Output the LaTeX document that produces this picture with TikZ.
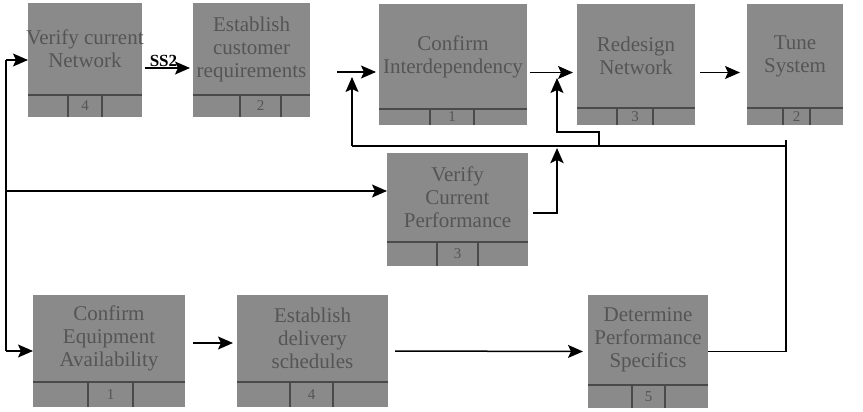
\documentclass[tikz,border=0pt]{standalone}
\usepackage{fontspec}
\setmainfont{Liberation Serif}
\usetikzlibrary{arrows.meta}

\definecolor{boxgray}{HTML}{8A8A8A}
\definecolor{inkgray}{HTML}{555555}
\definecolor{rulegray}{HTML}{4A4A4A}

\tikzset{
  procfill/.style={rectangle, fill=boxgray, draw=none, inner sep=0pt, outer sep=0pt},
  proctext/.style={align=center, inner sep=0pt, text=inkgray,
                   font=\fontsize{21}{23}\selectfont},
  procnum/.style={inner sep=0pt, text=inkgray, font=\fontsize{15}{15}\selectfont},
  cellline/.style={draw=rulegray, line width=1.1pt},
  conn/.style={draw=black, line width=1.5pt},
  arr/.style={conn, -{Stealth[length=15pt,width=13pt,inset=3pt]}},
  heavyarr/.style={draw=black, line width=2.6pt, -{Stealth[length=15pt,width=13pt,inset=3pt]}},
  flowlabel/.style={inner sep=1pt, font=\bfseries\fontsize{17}{17}\selectfont}
}

% Process box: name, x1, y1, x2, y2, divider y, left cell x, right cell x, text;
% the number in the bottom strip follows as one more argument.
\newcommand{\procbox}[9]{%
  \node[procfill, minimum width={(#4-#2)*1pt}, minimum height={(#5-#3)*1pt},
        anchor=north west] (#1) at (#2,#3) {};
  \draw[cellline] (#2,#6) -- (#4,#6) (#7,#6) -- (#7,#5) (#8,#6) -- (#8,#5);
  \node[proctext] (#1-text) at ({(#2+#4)/2},{(#3+#6)/2}) {#9};
  \def\pbnumx{(#7+#8)/2}\def\pbnumy{(#6+#5)/2}\def\pbname{#1}%
  \procboxnum}
\newcommand{\procboxnum}[1]{%
  \node[procnum] (\pbname-num) at ({\pbnumx},{\pbnumy}) {#1};}

\begin{document}
\begin{tikzpicture}[x=1pt, y=-1pt]
  \useasboundingbox (0,0) rectangle (863,412);

  % top row
  \procbox{b1}{28}{3}{142}{117}{95}{68}{102}{Verify current\\Network}{4}
  \procbox{b2}{193}{3}{310}{117}{95}{240}{281}{Establish\\customer\\requirements}{2}
  \procbox{b3}{379}{4}{527}{125}{109}{430}{474}{Confirm\\Interdependency}{1}
  \procbox{b4}{577}{4}{695}{125}{108}{617}{653}{Redesign\\Network}{3}
  \procbox{b5}{747}{4}{843}{125}{108}{783}{810}{Tune\\System}{2}
  % middle
  \procbox{b6}{387}{153}{528}{266}{242}{437}{478}{Verify\\Current\\Performance}{3}
  % bottom row
  \procbox{b7}{33}{295}{185}{407}{382}{88}{133}{Confirm\\Equipment\\Availability}{1}
  \procbox{b8}{237}{295}{388}{407}{382}{290}{333}{Establish\\delivery\\schedules}{4}
  \procbox{b9}{588}{295}{708}{408}{385}{632}{665}{Determine\\Performance\\Specifics}{5}

  % left rail feeding the three branches
  \coordinate (railtop) at (6,60);
  \coordinate (railmid) at (6,191);
  \coordinate (railbot) at (6,351);
  \draw[conn] (railtop) -- (railbot);
  \draw[arr] (railtop) -- (b1.west);
  \draw[arr] (railmid) -- (railmid -| b6.west);
  \draw[arr] (railbot) -- (b7.west);

  % top row flow
  \draw[arr, shorten <=3pt, shorten >=3pt] ([yshift=-8pt]b1.east) -- ([yshift=-8pt]b2.west)
    node[flowlabel, midway, above, xshift=-4pt] (ss2) {SS2};
  \coordinate (j23) at (337,72);
  \draw[arr, shorten >=3pt] (j23) -- (j23 -| b3.west);
  \draw[arr, shorten <=3pt, shorten >=4pt] ([yshift=-8pt]b3.east) -- ([yshift=-8pt]b4.west);
  \draw[arr, shorten <=5pt, shorten >=7pt] ([yshift=-8pt]b4.east) -- ([yshift=-8pt]b5.west);

  % feedback bus
  \coordinate (fbL) at (352,146);
  \coordinate (fbJ) at (599,146);
  \coordinate (fbR) at (786,146);
  \coordinate (fbTop) at (786,140);
  \coordinate (in3) at (352,77);
  \coordinate (kink) at (557,132);
  \coordinate (in4) at (557,78);
  \coordinate (perfup) at (557,148);
  \draw[conn] (fbL) -- (fbR);
  \draw[conn] (fbTop) -- (fbR |- b9.east) -- (b9.east);
  \draw[arr] (fbL) -- (in3);
  \draw[arr] (fbJ) -- (fbJ |- kink) -- (kink) -- (in4);
  \draw[heavyarr, shorten <=5pt] ([yshift=-3.5pt]b6.east) -| (perfup);

  % bottom row flow
  \draw[arr, shorten <=8pt, shorten >=4pt] ([yshift=8pt]b7.east) -- ([yshift=8pt]b8.west);
  \draw[arr, shorten <=7pt, shorten >=5pt] (b8.east) -- (b9.west);
\end{tikzpicture}
\end{document}
